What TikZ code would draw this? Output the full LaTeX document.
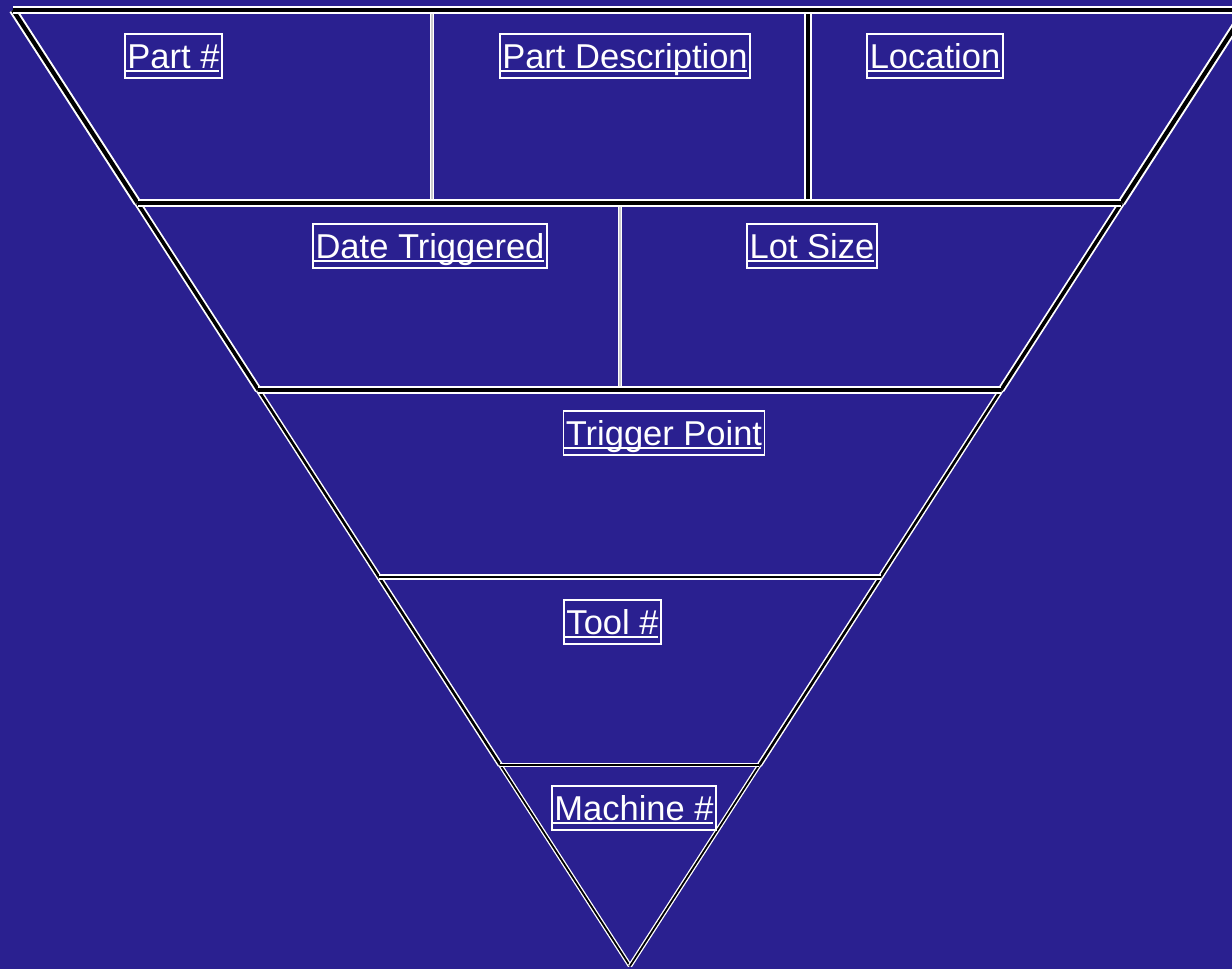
\documentclass[tikz,border=0pt]{standalone}
\usepackage{fontspec}
\setmainfont{Liberation Sans}
\definecolor{bg}{HTML}{2A2090}
\begin{document}
\begin{tikzpicture}[x=1pt,y=-1pt,
  heavy/.style={draw=white,double=black,line width=2pt,double distance=4.2pt},
  medium/.style={draw=white,double=black,line width=1.8pt,double distance=3.6pt},
  light/.style={draw=white,double=black,line width=1.5pt,double distance=2.6pt},
  thin/.style={draw=white,double=black,line width=1.3pt,double distance=1.8pt},
  grayline/.style={draw=white,double=gray!40,line width=1.5pt,double distance=1.2pt},
  lbl/.style={draw=white,line width=1.6pt,text=white,font=\fontsize{34.5}{40}\selectfont,
    text height=34pt,text depth=10pt,inner ysep=0pt,inner xsep=2.5pt,anchor=base},
  uline/.style={draw=white,line width=2.2pt}]
\fill[bg] (0,0) rectangle (1232,969);
\useasboundingbox (0,0) rectangle (1232,969);
% edge coordinates
\coordinate (L0) at (13,10);
\coordinate (L1) at (137.6,203);
\coordinate (L2) at (258.3,390);
\coordinate (L3) at (379,577);
\coordinate (L4) at (500.3,765);
\coordinate (A) at (630,966);
\coordinate (R0) at (1245.7,10);
\coordinate (R1) at (1121.4,203);
\coordinate (R2) at (1001,390);
\coordinate (R3) at (880.5,577);
\coordinate (R4) at (759.4,765);
\coordinate (V1t) at (432,12);
\coordinate (V1b) at (432,203);
\coordinate (V2t) at (808,12);
\coordinate (V2b) at (808,203);
\coordinate (V3t) at (620,203);
\coordinate (V3b) at (620,390);
\begin{scope}
\clip (0,0) rectangle (1232,969);
% vertical dividers
\draw[grayline] (V1t) -- (V1b);
\draw[medium] (V2t) -- (V2b);
\draw[grayline] (V3t) -- (V3b);
% sides
\draw[heavy] (L0) -- (L1);
\draw[heavy] (R0) -- (R1);
\draw[medium] (L1) -- (L2);
\draw[medium] (R1) -- (R2);
\draw[light] (L2) -- (L3);
\draw[light] (R2) -- (R3);
\draw[light] (L3) -- (L4);
\draw[light] (R3) -- (R4);
\draw[thin] (L4) -- (A);
\draw[thin] (R4) -- (A);
% horizontal bands
\draw[heavy] (L0) -- (R0);
\draw[medium] (L1) -- (R1);
\draw[medium] (L2) -- (R2);
\draw[light] (L3) -- (R3);
\draw[thin] (L4) -- (R4);
\end{scope}
% labels
\node[lbl] (partno) at (173.5,68) {Part \#};
\node[lbl] (partdesc) at (625,68) {Part Description};
\node[lbl] (loc) at (935,68) {Location};
\node[lbl] (date) at (430,258) {Date Triggered};
\node[lbl] (lot) at (812,258) {Lot Size};
\node[lbl] (trig) at (664,445) {Trigger Point};
\node[lbl] (tool) at (612.5,634) {Tool \#};
\node[lbl] (mach) at (634,820) {Machine \#};
\foreach \n in {partno,partdesc,loc,date,lot,trig,tool,mach}{
  \draw[uline] ([xshift=1pt,yshift=-3pt]\n.base west) -- ([xshift=-4pt,yshift=-3pt]\n.base east);
}
\end{tikzpicture}
\end{document}
